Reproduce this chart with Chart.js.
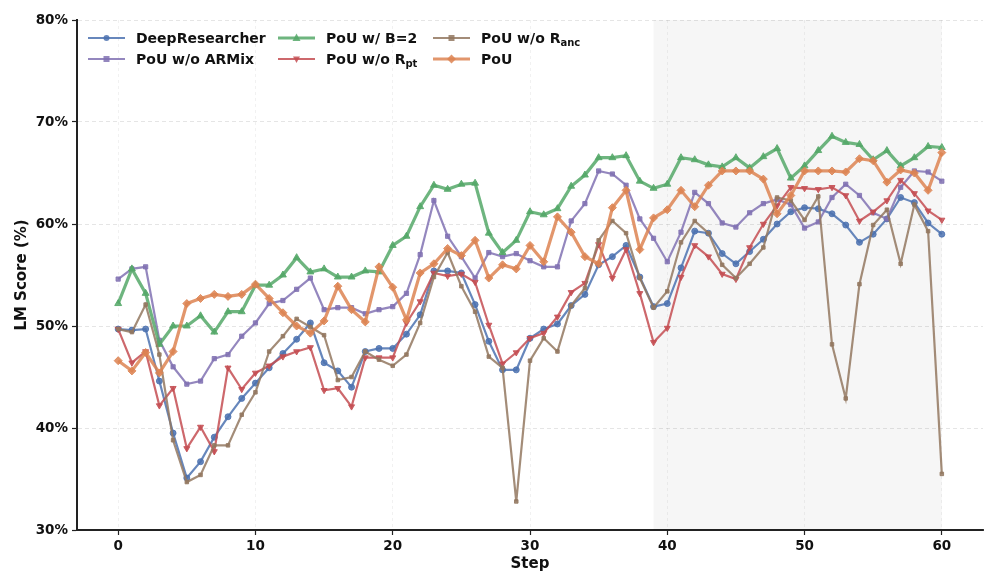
<!DOCTYPE html>
<html><head><meta charset="utf-8">
<script src="https://cdn.jsdelivr.net/npm/chart.js@4"></script>
<style>
html,body{margin:0;padding:0;background:#fff;}
#wrap{position:relative;width:997px;height:588px;}
canvas{display:block;}
.lg{position:absolute;display:flex;align-items:center;height:20px;font:bold 14px "DejaVu Sans",sans-serif;color:#111;white-space:nowrap;}
.lg svg{margin-right:11px;flex:none;}
.lg sub{font-size:10px;vertical-align:-3px;line-height:0;}
</style></head><body>
<div id="wrap"><canvas id="c" width="997" height="588"></canvas><div id="legend"></div></div>
<script>
const steps = [0,1,2,3,4,5,6,7,8,9,10,11,12,13,14,15,16,17,18,19,20,21,22,23,24,25,26,27,28,29,30,31,32,33,34,35,36,37,38,39,40,41,42,43,44,45,46,47,48,49,50,51,52,53,54,55,56,57,58,59,60];
const xTickValues = [0,10,20,30,40,50,60];
const yTickValues = [30,40,50,60,70,80];
const shadeRange = [39,60];

const deepResearcher = [49.7,49.6,49.7,44.6,39.5,35.1,36.7,39.1,41.1,42.9,44.4,45.9,47.3,48.7,50.3,46.4,45.6,44.0,47.5,47.8,47.8,49.2,51.1,55.4,55.4,55.2,52.1,48.5,45.7,45.7,48.8,49.7,50.2,52.0,53.1,56.0,56.8,57.9,54.8,51.9,52.2,55.7,59.3,59.1,57.1,56.1,57.3,58.5,60.0,61.2,61.6,61.5,61.0,59.9,58.2,59.0,60.5,62.6,62.1,60.1,59.0];
const pouNoARMix = [54.6,55.6,55.8,48.6,46.0,44.3,44.6,46.8,47.2,49.0,50.3,52.2,52.5,53.6,54.7,51.6,51.8,51.8,51.2,51.6,51.9,53.2,57.0,62.3,58.8,56.8,54.7,57.2,56.8,57.1,56.4,55.8,55.8,60.3,62.0,65.2,64.9,63.8,60.5,58.6,56.3,59.2,63.1,62.0,60.1,59.7,61.1,62.0,62.4,61.9,59.6,60.2,62.6,63.9,62.8,61.1,60.5,63.6,65.2,65.1,64.2];
const pouB2 = [52.2,55.6,53.2,48.2,50.0,50.0,51.0,49.4,51.4,51.4,54.0,54.0,55.0,56.7,55.3,55.6,54.8,54.8,55.4,55.3,57.9,58.8,61.7,63.8,63.4,63.9,64.0,59.1,57.2,58.4,61.2,60.9,61.5,63.7,64.8,66.5,66.5,66.7,64.2,63.5,63.9,66.5,66.3,65.8,65.6,66.5,65.5,66.6,67.4,64.5,65.7,67.2,68.6,68.0,67.8,66.3,67.2,65.7,66.5,67.6,67.5];
const pouNoRpt = [49.7,46.4,47.5,42.2,43.9,38.0,40.1,37.7,45.9,43.8,45.4,46.1,47.0,47.5,47.9,43.7,43.9,42.1,46.9,46.9,46.9,50.3,52.4,55.2,54.9,55.1,54.3,50.1,46.3,47.4,48.8,49.3,50.9,53.3,54.2,58.0,54.7,57.5,53.2,48.4,49.8,54.8,57.9,56.8,55.1,54.6,57.7,60.0,61.8,63.6,63.5,63.4,63.6,62.8,60.3,61.2,62.3,64.3,63.0,61.3,60.4];
const pouNoRanc = [49.7,49.4,52.1,47.2,38.8,34.7,35.4,38.3,38.3,41.3,43.5,47.5,49.0,50.7,49.9,49.1,44.7,45.0,47.5,46.7,46.1,47.2,50.3,54.8,57.2,53.9,51.4,47.0,45.9,32.8,46.6,48.8,47.5,52.0,53.7,58.4,60.3,59.1,54.7,51.8,53.4,58.2,60.3,59.1,56.0,54.7,56.1,57.7,62.6,62.3,60.4,62.7,48.2,42.9,54.1,59.9,61.4,56.1,61.9,59.3,35.5];
const pou = [46.6,45.6,47.4,45.4,47.5,52.2,52.7,53.1,52.9,53.1,54.1,52.7,51.3,50.0,49.3,50.5,53.9,51.6,50.4,55.8,53.8,50.6,55.2,56.1,57.6,56.9,58.4,54.7,56.0,55.6,57.9,56.3,60.7,59.2,56.8,56.1,61.6,63.3,57.5,60.6,61.4,63.3,61.7,63.8,65.2,65.2,65.2,64.4,61.0,62.8,65.2,65.2,65.2,65.1,66.4,66.2,64.1,65.3,65.0,63.3,67.0];

const seriesNames = ['DeepResearcher','PoU w/o ARMix','PoU w/ B=2','PoU w/o R','PoU w/o R','PoU'];
const seriesSubs = ['','','','pt','anc',''];
const seriesValues = [deepResearcher,pouNoARMix,pouB2,pouNoRpt,pouNoRanc,pou];

const styles = [
  {color:'76,114,176', marker:'circle', r:3, rot:0, w:2.2},
  {color:'129,114,179', marker:'rect', r:3, rot:0, w:2.2},
  {color:'85,168,104', marker:'triangle', r:4, rot:0, w:3.2},
  {color:'196,78,82', marker:'triangle', r:3.5, rot:180, w:2.2},
  {color:'147,120,96', marker:'rect', r:2.5, rot:0, w:2.2},
  {color:'221,132,82', marker:'rectRot', r:4, rot:0, w:3.2}
];

const datasets = seriesValues.map((vals,i)=>({
  label: seriesNames[i]+seriesSubs[i],
  data: steps.map((s,j)=>({x:s,y:vals[j]})),
  borderColor:'rgba('+styles[i].color+',0.85)',
  backgroundColor:'rgba('+styles[i].color+',0.85)',
  borderWidth:styles[i].w,
  pointStyle:styles[i].marker,
  pointRadius:styles[i].r,
  pointRotation:styles[i].rot,
  pointBorderWidth:1,
  pointHoverRadius:styles[i].r,
  tension:0,
  order:5-i
}));

const shadePlugin = {
  id:'shade',
  beforeDatasetsDraw(chart){
    const {ctx, chartArea, scales:{x}} = chart;
    const x0 = x.getPixelForValue(shadeRange[0]);
    const x1 = x.getPixelForValue(shadeRange[1]);
    ctx.save();
    ctx.fillStyle='rgba(0,0,0,0.035)';
    ctx.fillRect(x0, chartArea.top, x1-x0, chartArea.bottom-chartArea.top);
    ctx.restore();
  }
};

const tickFont = {family:'"DejaVu Sans"', size:13.5, weight:'bold'};
const titleFont = {family:'"DejaVu Sans"', size:15, weight:'bold'};

new Chart(document.getElementById('c'), {
  type:'line',
  data:{datasets},
  plugins:[shadePlugin],
  options:{
    responsive:false,
    devicePixelRatio:1,
    animation:false,
    layout:{padding:{top:20,right:14,left:0,bottom:0}},
    plugins:{legend:{display:false},tooltip:{enabled:false}},
    scales:{
      x:{
        type:'linear', min:-3, max:63,
        afterBuildTicks:s=>{s.ticks = xTickValues.map(v=>({value:v}));},
        afterFit:s=>{s.height=58;},
        ticks:{font:tickFont,color:'#111',padding:3,maxRotation:0},
        grid:{color:'rgba(0,0,0,0.07)',lineWidth:0.8,tickColor:'#222',tickLength:5,tickWidth:1.2,tickBorderDash:[]},
        border:{color:'#222',width:2,dash:[3,3]},
        title:{display:true,text:'Step',font:titleFont,color:'#111',padding:{top:0,bottom:15}}
      },
      y:{
        min:30, max:80,
        afterBuildTicks:s=>{s.ticks = yTickValues.map(v=>({value:v}));},
        afterFit:s=>{s.width=77;},
        ticks:{font:tickFont,color:'#111',padding:4,callback:v=>v+'%'},
        grid:{color:'rgba(0,0,0,0.13)',lineWidth:0.8,tickColor:'#222',tickLength:5,tickWidth:1.2,tickBorderDash:[]},
        border:{color:'#222',width:2,dash:[4,3]},
        title:{display:true,text:'LM Score (%)',font:titleFont,color:'#111',padding:{top:13,bottom:0}}
      }
    }
  }
});

// HTML legend (3 columns, column-major order)
const legendCols = [88,278,433];
const legendRows = [38,59];
const legendEl = document.getElementById('legend');
function markerSvg(st){
  const c='rgba('+st.color+',0.85)';
  let m='';
  const cx=18.5, cy=10;
  if(st.marker==='circle') m='<circle cx="'+cx+'" cy="'+cy+'" r="3" fill="'+c+'"/>';
  else if(st.marker==='rect') m='<rect x="'+(cx-3)+'" y="'+(cy-3)+'" width="6" height="6" fill="'+c+'"/>';
  else if(st.marker==='triangle' && st.rot===0) m='<polygon points="'+cx+','+(cy-4.5)+' '+(cx+4)+','+(cy+3)+' '+(cx-4)+','+(cy+3)+'" fill="'+c+'"/>';
  else if(st.marker==='triangle') m='<polygon points="'+cx+','+(cy+4)+' '+(cx+3.5)+','+(cy-2.5)+' '+(cx-3.5)+','+(cy-2.5)+'" fill="'+c+'"/>';
  else m='<polygon points="'+cx+','+(cy-4.5)+' '+(cx+4.5)+','+cy+' '+cx+','+(cy+4.5)+' '+(cx-4.5)+','+cy+'" fill="'+c+'"/>';
  return '<svg width="37" height="20"><line x1="0" y1="10" x2="37" y2="10" stroke="'+c+'" stroke-width="'+st.w+'"/>'+m+'</svg>';
}
seriesNames.forEach((n,i)=>{
  const col=Math.floor(i/2), row=i%2;
  const d=document.createElement('div');
  d.className='lg';
  d.style.left=legendCols[col]+'px';
  d.style.top=(legendRows[row]-10)+'px';
  d.innerHTML=markerSvg(styles[i])+'<span>'+n+(seriesSubs[i]?'<sub>'+seriesSubs[i]+'</sub>':'')+'</span>';
  legendEl.appendChild(d);
});
</script>
</body></html>
